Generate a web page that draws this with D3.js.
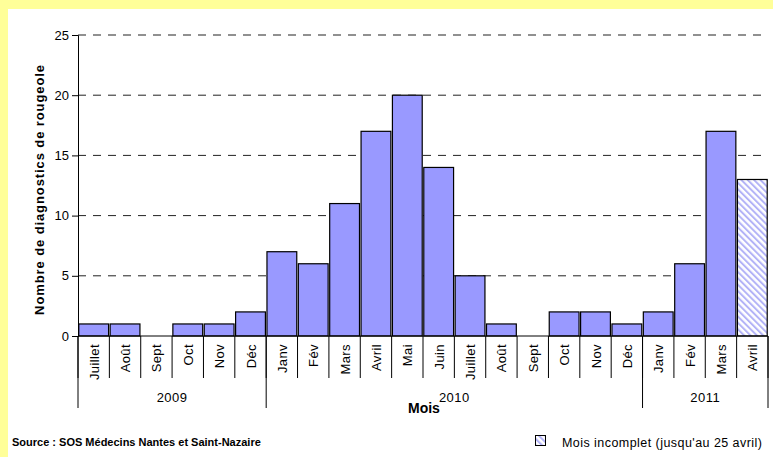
<!DOCTYPE html>
<html>
<head>
<meta charset="utf-8">
<script src="https://cdn.jsdelivr.net/npm/d3@7"></script>
<style>
  body { margin: 0; background: #ffff99; }
  svg { display: block; }
  svg text { font-family: "Liberation Sans", Arial, sans-serif; fill: #000; }
</style>
</head>
<body>
<div id="chart"></div>
<script>
const width = 773;
const height = 457;

// months, 2009-07 .. 2011-04
const months = ["Juillet", "Août", "Sept", "Oct", "Nov", "Déc",
  "Janv", "Fév", "Mars", "Avril", "Mai", "Juin", "Juillet", "Août", "Sept", "Oct", "Nov", "Déc",
  "Janv", "Fév", "Mars", "Avril"];
const years = ["2009", "2010", "2011"];
const yearCounts = [6, 12, 4];
const values = [1, 1, 0, 1, 1, 2, 7, 6, 11, 17, 20, 14, 5, 1, 0, 2, 2, 1, 2, 6, 17, 13];
// last month is not complete
const incomplete = [false, false, false, false, false, false, false, false, false, false, false,
  false, false, false, false, false, false, false, false, false, false, true];
const yTicks = [0, 5, 10, 15, 20, 25];

const margin = { left: 78, right: 5, top: 35, bottom: 121 };
const x0 = margin.left, x1 = width - margin.right;
const yBase = height - margin.bottom;

const svg = d3.select("#chart").append("svg")
  .attr("width", width)
  .attr("height", height);

// white panel inside yellow border
svg.append("rect")
  .attr("x", 8).attr("y", 9)
  .attr("width", width - 8).attr("height", height - 9)
  .attr("fill", "#fff");

const defs = svg.append("defs");
const pat = defs.append("pattern")
  .attr("id", "hatch")
  .attr("patternUnits", "userSpaceOnUse")
  .attr("width", 4.5).attr("height", 4.5)
  .attr("patternTransform", "rotate(-45)");
pat.append("rect").attr("width", 4.5).attr("height", 4.5).attr("fill", "#fff");
pat.append("rect").attr("width", 2).attr("height", 4.5).attr("fill", "#b3b3f7");

const idx = months.map((m, i) => i);
const x = d3.scaleBand()
  .domain(idx)
  .range([x0, x1])
  .paddingInner(0.05)
  .paddingOuter(0.025);

const step = (x1 - x0) / months.length;

const y = d3.scaleLinear()
  .domain([0, 25])
  .range([yBase, margin.top]);

// dashed grid
svg.append("g")
  .selectAll("line")
  .data(yTicks.filter(d => d > 0))
  .join("line")
  .attr("x1", x0).attr("x2", x1 - 5)
  .attr("y1", d => y(d)).attr("y2", d => y(d))
  .attr("stroke", "#222")
  .attr("stroke-dasharray", "8,7");

// bars
svg.append("g")
  .selectAll("rect")
  .data(values)
  .join("rect")
  .attr("x", (d, i) => x(i))
  .attr("width", x.bandwidth())
  .attr("y", d => y(d))
  .attr("height", d => yBase - y(d))
  .attr("fill", (d, i) => incomplete[i] ? "url(#hatch)" : "#9999ff")
  .attr("stroke", (d, i) => d > 0 ? "#000" : "none")
  .attr("stroke-width", 1.2);

// y axis
const yAxis = svg.append("g")
  .attr("transform", `translate(${x0},0)`)
  .call(d3.axisLeft(y).tickValues(yTicks).tickSize(6).tickPadding(3));
yAxis.select(".domain").attr("stroke", "#000");
yAxis.selectAll("text").attr("font-size", 13).attr("font-family", null);

// x baseline
svg.append("line")
  .attr("x1", x0).attr("x2", x1)
  .attr("y1", yBase).attr("y2", yBase)
  .attr("stroke", "#000");

// month separators
svg.append("g")
  .selectAll("line")
  .data(d3.range(months.length + 1))
  .join("line")
  .attr("x1", i => x0 + i * step).attr("x2", i => x0 + i * step)
  .attr("y1", yBase).attr("y2", yBase + 42)
  .attr("stroke", "#000");

// month labels
svg.append("g")
  .selectAll("text")
  .data(months)
  .join("text")
  .attr("transform", (d, i) => `translate(${x(i) + x.bandwidth() / 2 + 5},${yBase + 8}) rotate(-90)`)
  .attr("text-anchor", "end")
  .attr("font-size", 13)
  .attr("letter-spacing", 0.4)
  .text(d => d);

// year separators and labels
const yearStart = [0];
yearCounts.forEach((c, i) => yearStart.push(yearStart[i] + c));
svg.append("g")
  .selectAll("line")
  .data(yearStart)
  .join("line")
  .attr("x1", i => x0 + i * step).attr("x2", i => x0 + i * step)
  .attr("y1", yBase).attr("y2", yBase + 72)
  .attr("stroke", "#000");

svg.append("g")
  .selectAll("text")
  .data(years)
  .join("text")
  .attr("x", (d, i) => x0 + (yearStart[i] + yearCounts[i] / 2) * step)
  .attr("y", yBase + 66)
  .attr("text-anchor", "middle")
  .attr("font-size", 13)
  .attr("letter-spacing", 0.5)
  .text(d => d);

// axis titles
svg.append("text")
  .attr("x", 408).attr("y", yBase + 77)
  .attr("font-size", 14).attr("font-weight", "bold")
  .text("Mois");

svg.append("text")
  .attr("transform", `translate(44,${(margin.top + yBase) / 2 + 4}) rotate(-90)`)
  .attr("text-anchor", "middle")
  .attr("font-size", 13).attr("font-weight", "bold")
  .attr("letter-spacing", 0.9)
  .text("Nombre de diagnostics de rougeole");

// source
svg.append("text")
  .attr("x", 12).attr("y", 446)
  .attr("font-size", 11).attr("font-weight", "bold")
  .text("Source : SOS Médecins Nantes et Saint-Nazaire");

// legend
svg.append("rect")
  .attr("x", 535.5).attr("y", 435.5)
  .attr("width", 10).attr("height", 10)
  .attr("fill", "url(#hatch)")
  .attr("stroke", "#000");
svg.append("text")
  .attr("x", 562).attr("y", 447)
  .attr("font-size", 12.5)
  .attr("letter-spacing", 0.45)
  .text("Mois incomplet (jusqu'au 25 avril)");
</script>
</body>
</html>
